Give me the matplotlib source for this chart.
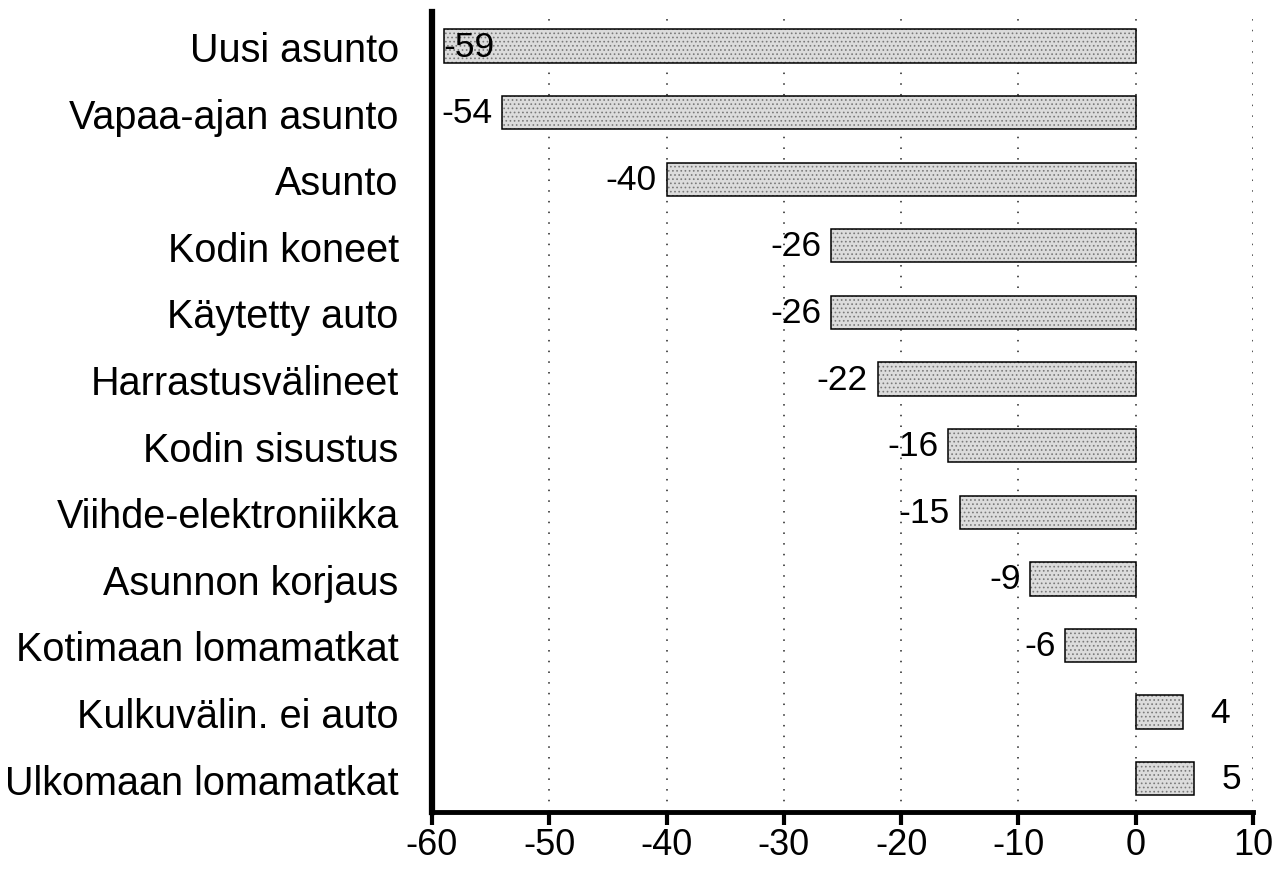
import matplotlib
matplotlib.use("Agg")
import matplotlib.pyplot as plt
import numpy as np

# Daten
kategoriat = ["Uusi asunto", "Vapaa-ajan asunto", "Asunto", "Kodin koneet",
              "Käytetty auto", "Harrastusvälineet", "Kodin sisustus",
              "Viihde-elektroniikka", "Asunnon korjaus", "Kotimaan lomamatkat",
              "Kulkuvälin. ei auto", "Ulkomaan lomamatkat"]
arvot = [-59, -54, -40, -26, -26, -22, -16, -15, -9, -6, 4, 5]
x_ticks = [-60, -50, -40, -30, -20, -10, 0, 10]

plt.rcParams['font.family'] = ['Liberation Sans', 'DejaVu Sans']
plt.rcParams['hatch.linewidth'] = 0.7

fig = plt.figure(figsize=(12.88, 8.7), dpi=100)
ax = fig.add_axes([0.3354, 0.0655, 0.6374, 0.9195])

y = np.arange(len(kategoriat))
# Rasterikuvio + reunaviiva erikseen
ax.barh(y, arvot, height=0.5, color="#dcdcdc", hatch="....",
        edgecolor="#7a7a7a", linewidth=0, zorder=2)
ax.barh(y, arvot, height=0.5, fill=False, edgecolor="black",
        linewidth=1.1, zorder=3)

ax.set_xlim(-60, 10)
ax.set_ylim(11.5, -0.51)
ax.set_yticks(y)
ax.set_yticklabels(kategoriat)
ax.set_xticks(x_ticks)
ax.set_xticklabels([str(t) for t in x_ticks])

ax.tick_params(axis='y', length=0, pad=24, labelsize=28.5)
ax.tick_params(axis='x', length=9, width=3, direction='out', pad=2,
               labelsize=26)

for s in ['top', 'right']:
    ax.spines[s].set_visible(False)
ax.spines['left'].set_linewidth(4.5)
ax.spines['bottom'].set_linewidth(3.5)

ax.grid(axis='x', linestyle=(0, (1, 6)), color='#222222', linewidth=1.1,
        zorder=0)
ax.set_axisbelow(True)

# Arvot palkkien viereen
for yi, v in zip(y, arvot):
    if v < 0:
        if v - 4 < -60:
            ax.annotate(str(v), (v, yi), xytext=(0, 0), textcoords='offset points',
                        ha='left', va='center', fontsize=25.5, zorder=4)
        else:
            ax.annotate(str(v), (v, yi), xytext=(-7, 0), textcoords='offset points',
                        ha='right', va='center', fontsize=25.5, zorder=4)
    else:
        ax.annotate(str(v), (v, yi), xytext=(20, 0), textcoords='offset points',
                    ha='left', va='center', fontsize=25.5, zorder=4)

fig.savefig("out.png", dpi=100)
